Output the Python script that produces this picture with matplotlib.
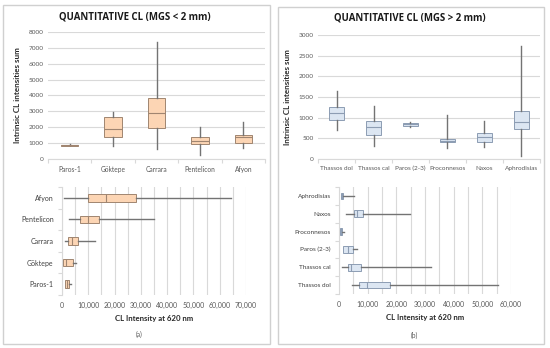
import matplotlib
matplotlib.use("Agg")
import matplotlib.pyplot as plt
from matplotlib.patches import Rectangle
from matplotlib.ticker import FuncFormatter, MultipleLocator

plt.rcParams['font.family'] = ['Lato', 'DejaVu Sans']

# ---------------- Data ----------------
# Panel (a) top: intrinsic CL intensities sum (MGS < 2 mm)
cats_a = ["Paros-1", "Göktepe", "Carrara", "Pentelicon", "Afyon"]
a_top_wlo = [820, 840, 610, 250, 690]
a_top_q1 = [830, 1410, 1975, 925, 1010]
a_top_med = [870, 1910, 2920, 1155, 1365]
a_top_q3 = [900, 2650, 3820, 1390, 1510]
a_top_whi = [930, 2950, 7370, 2000, 2310]

# Panel (a) bottom: CL intensity at 620 nm (bottom -> top order)
a_bot_wlo = [1000, 250, 1010, 2530, 890]
a_bot_q1 = [1270, 500, 2400, 6960, 9870]
a_bot_med = [1900, 1520, 3920, 9750, 16580]
a_bot_q3 = [2530, 4300, 5950, 14050, 27970]
a_bot_whi = [3290, 5300, 12400, 35060, 64300]

# Panel (b) top: intrinsic CL intensities sum (MGS > 2 mm)
cats_b = ["Thassos dol", "Thassos cal", "Paros (2-3)", "Proconnesos", "Naxos", "Aphrodisias"]
b_top_wlo = [700, 322, 780, 273, 282, 64]
b_top_q1 = [933, 587, 805, 402, 410, 732]
b_top_med = [1110, 780, 837, 434, 531, 893]
b_top_q3 = [1263, 909, 877, 475, 627, 1158]
b_top_whi = [1657, 1271, 893, 1054, 917, 2743]

# Panel (b) bottom: CL intensity at 620 nm (bottom -> top order)
b_bot_wlo = [4420, 1050, 1280, 350, 2440, 580]
b_bot_q1 = [6860, 3020, 1510, 350, 5120, 810]
b_bot_med = [9880, 4070, 3020, 580, 6400, 1160]
b_bot_q3 = [17790, 7560, 5000, 930, 8260, 1510]
b_bot_whi = [55350, 32090, 6160, 1740, 24650, 5350]

W, H = 550, 348
fig = plt.figure(figsize=(W / 100, H / 100), dpi=100)

def fr(x0, y0, x1, y1):
    # pixel box (top-left origin) -> figure fraction rect
    return [x0 / W, 1 - y1 / H, (x1 - x0) / W, (y1 - y0) / H]

TXT = "#595959"
GRID = "#d9d9d9"
WHISK = "#737373"

def stats(wlo, q1, med, q3, whi):
    return [dict(whislo=a, q1=b, med=c, q3=d, whishi=e, fliers=[])
            for a, b, c, d, e in zip(wlo, q1, med, q3, whi)]

def draw_box(ax, st, vert, face, edge, width):
    pos = [i + 0.5 for i in range(len(st))]
    ax.bxp(st, positions=pos, widths=width, vert=vert, showcaps=False,
           showfliers=False, patch_artist=True,
           boxprops=dict(facecolor=face, edgecolor=edge, linewidth=0.7),
           medianprops=dict(color=edge, linewidth=0.8),
           whiskerprops=dict(color=WHISK, linewidth=1.0), zorder=3)

def style_top(ax, cats, ymax, ystep, catsize):
    ax.set_xlim(0, len(cats))
    ax.set_ylim(0, ymax)
    ax.yaxis.set_major_locator(MultipleLocator(ystep))
    ax.set_xticks([i + 0.5 for i in range(len(cats))])
    ax.set_xticklabels(cats, fontsize=catsize, color=TXT)
    ax.set_xticks(range(len(cats) + 1), minor=True)
    ax.tick_params(axis='x', which='major', length=0, pad=5)
    ax.tick_params(axis='x', which='minor', length=3, color=GRID, width=0.8)
    ax.tick_params(axis='y', length=0, labelsize=4.6, labelcolor=TXT, pad=3)
    ax.grid(axis='y', color=GRID, linewidth=0.8, zorder=0)
    for s in ['top', 'right', 'left']:
        ax.spines[s].set_visible(False)
    ax.spines['bottom'].set_color(GRID)
    ax.spines['bottom'].set_linewidth(0.8)
    ax.set_axisbelow(True)

def style_bot(ax, cats, xmax, xstep_lab, catsize):
    n = len(cats)
    ax.set_ylim(0, n)
    ax.set_xlim(0, xmax)
    ax.set_yticks([i + 0.5 for i in range(n)])
    ax.set_yticklabels(cats, fontsize=catsize, color="#404040")
    ax.set_yticks(range(n + 1), minor=True)
    ax.tick_params(axis='y', which='major', length=0, pad=6)
    ax.tick_params(axis='y', which='minor', length=3, color=GRID, width=0.8)
    ax.xaxis.set_major_locator(MultipleLocator(xstep_lab))
    ax.xaxis.set_minor_locator(MultipleLocator(xstep_lab / 2))
    ax.xaxis.set_major_formatter(FuncFormatter(lambda v, p: f"{int(v):,}"))
    ax.tick_params(axis='x', which='both', length=0, labelsize=5.0,
                   labelcolor=TXT, pad=5)
    ax.grid(axis='x', which='both', color=GRID, linewidth=0.8, zorder=0)
    for s in ['top', 'right', 'bottom']:
        ax.spines[s].set_visible(False)
    ax.spines['left'].set_color(GRID)
    ax.spines['left'].set_linewidth(0.8)
    ax.set_xlabel("CL Intensity at 620 nm", fontsize=5.6, fontweight='bold',
                  color="#262626", labelpad=4)
    ax.set_axisbelow(True)

# Frames
for (x0, y0, x1, y1) in [(3, 5, 270, 344), (278, 7, 544, 344)]:
    fig.patches.append(Rectangle((x0 / W, 1 - y1 / H), (x1 - x0) / W, (y1 - y0) / H,
                                 transform=fig.transFigure, fill=False,
                                 edgecolor="#d0d0d0", linewidth=1.0))

PEACH, PEACH_E = "#fcd5b4", "#a08570"
BLUE, BLUE_E = "#dce6f2", "#8d9db3"

# Panel (a) top
ax1 = fig.add_axes(fr(48, 32, 265, 159))
draw_box(ax1, stats(a_top_wlo, a_top_q1, a_top_med, a_top_q3, a_top_whi),
         True, PEACH, PEACH_E, 0.4)
style_top(ax1, cats_a, 8000, 1000, 4.8)
ax1.set_ylabel("Intrinsic CL intensities sum", fontsize=5.8, fontweight='bold',
               color="#262626", labelpad=6)
fig.text(135 / W, 1 - 17 / H, "QUANTITATIVE CL (MGS < 2 mm)", fontsize=6.9,
         fontweight='bold', ha='center', va='center', color="#1a1a1a",
         family=['Open Sans', 'DejaVu Sans'])

# Panel (a) bottom
ax2 = fig.add_axes(fr(62, 187, 246, 295))
draw_box(ax2, stats(a_bot_wlo, a_bot_q1, a_bot_med, a_bot_q3, a_bot_whi),
         False, PEACH, PEACH_E, 0.36)
style_bot(ax2, cats_a, 70000, 10000, 5.0)

# Panel (b) top
ax3 = fig.add_axes(fr(318, 35, 540, 159))
draw_box(ax3, stats(b_top_wlo, b_top_q1, b_top_med, b_top_q3, b_top_whi),
         True, BLUE, BLUE_E, 0.39)
style_top(ax3, cats_b, 3000, 500, 4.6)
ax3.set_ylabel("Intrinsic CL intensities sum", fontsize=5.8, fontweight='bold',
               color="#262626", labelpad=6)
fig.text(410 / W, 1 - 18 / H, "QUANTITATIVE CL (MGS > 2 mm)", fontsize=6.9,
         fontweight='bold', ha='center', va='center', color="#1a1a1a",
         family=['Open Sans', 'DejaVu Sans'])

# Panel (b) bottom
ax4 = fig.add_axes(fr(339, 187, 511, 294))
draw_box(ax4, stats(b_bot_wlo, b_bot_q1, b_bot_med, b_bot_q3, b_bot_whi),
         False, BLUE, BLUE_E, 0.38)
style_bot(ax4, cats_b, 60000, 10000, 4.6)

fig.text(139 / W, 1 - 334 / H, "(a)", fontsize=4.8, ha='center', va='center', color=TXT)
fig.text(414 / W, 1 - 335 / H, "(b)", fontsize=4.8, ha='center', va='center', color=TXT)

fig.savefig("out.png", dpi=100, facecolor="white")
